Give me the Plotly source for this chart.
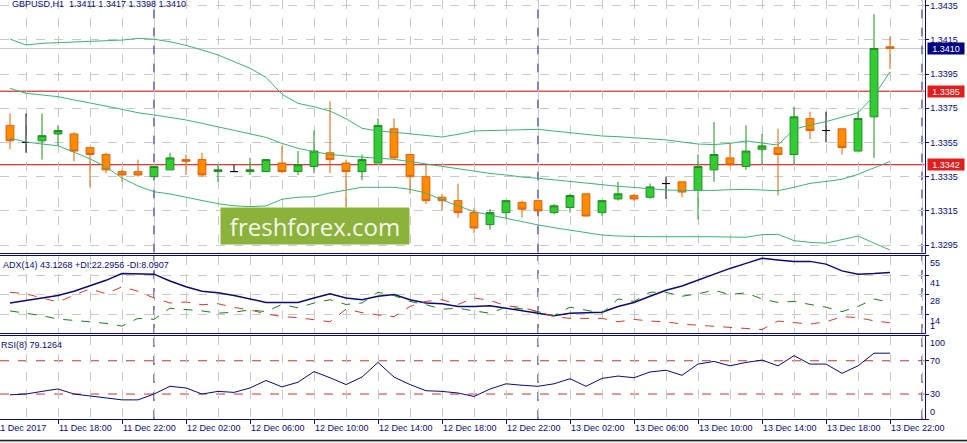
import pandas as pd
import plotly.graph_objects as go

# GBPUSD H1 candles, 11 Dec 2017 15:00 .. 13 Dec 2017 22:00
start_time = "2017-12-11 15:00"
opens = [1.3365, 1.3355, 1.3356, 1.3360, 1.3360, 1.3352, 1.3348, 1.3338, 1.3338, 1.3335,
         1.3339, 1.3345, 1.3345, 1.3338, 1.3338, 1.3338, 1.3338, 1.3343, 1.3338, 1.3341,
         1.3349, 1.3343, 1.3338, 1.3343, 1.3363, 1.3348, 1.3335, 1.3323, 1.3321, 1.3314,
         1.3307, 1.3314, 1.3320, 1.3321, 1.3314, 1.3317, 1.3325, 1.3314, 1.3322, 1.3324,
         1.3323, 1.3331, 1.3332, 1.3327, 1.3339, 1.3346, 1.3341, 1.3351, 1.3352, 1.3348,
         1.3369, 1.3362, 1.3363, 1.3350, 1.3370, 1.3411]
highs = [1.3372, 1.3372, 1.3372, 1.3365, 1.3361, 1.3352, 1.3349, 1.3339, 1.3345, 1.3341,
         1.3349, 1.3348, 1.3349, 1.3342, 1.3342, 1.3346, 1.3345, 1.3353, 1.3350, 1.3362,
         1.3379, 1.3345, 1.3348, 1.3369, 1.3369, 1.3348, 1.3342, 1.3325, 1.3331, 1.3317,
         1.3316, 1.3321, 1.3321, 1.3321, 1.3319, 1.3325, 1.3325, 1.3321, 1.3332, 1.3325,
         1.3331, 1.3335, 1.3332, 1.3348, 1.3367, 1.3355, 1.3365, 1.3360, 1.3363, 1.3376,
         1.3373, 1.3373, 1.3363, 1.3373, 1.3430, 1.3417]
lows = [1.3351, 1.3349, 1.3345, 1.3353, 1.3344, 1.3329, 1.3337, 1.3332, 1.3335, 1.3335,
        1.3339, 1.3336, 1.3335, 1.3332, 1.3338, 1.3336, 1.3338, 1.3337, 1.3336, 1.3337,
        1.3337, 1.3317, 1.3333, 1.3343, 1.3345, 1.3325, 1.3319, 1.3315, 1.3311, 1.3302,
        1.3304, 1.3311, 1.3311, 1.3313, 1.3313, 1.3314, 1.3312, 1.3312, 1.3321, 1.3321,
        1.3322, 1.3322, 1.3323, 1.3310, 1.3332, 1.3341, 1.3339, 1.3342, 1.3324, 1.3342,
        1.3357, 1.3355, 1.3348, 1.3350, 1.3346, 1.3398]
closes = [1.3356, 1.3355, 1.3359, 1.3362, 1.3350, 1.3348, 1.3339, 1.3336, 1.3336, 1.3341,
          1.3346, 1.3344, 1.3336, 1.3339, 1.3338, 1.3339, 1.3345, 1.3338, 1.3342, 1.3350,
          1.3345, 1.3338, 1.3345, 1.3365, 1.3346, 1.3335, 1.3321, 1.3321, 1.3314, 1.3305,
          1.3314, 1.3321, 1.3316, 1.3315, 1.3318, 1.3324, 1.3312, 1.3321, 1.3325, 1.3322,
          1.3329, 1.3331, 1.3326, 1.3341, 1.3348, 1.3342, 1.3350, 1.3353, 1.3348, 1.3370,
          1.3362, 1.3362, 1.3352, 1.3369, 1.3410, 1.3410]

# Bollinger bands
bb_upper = [1.34155, 1.34120, 1.34130, 1.34134, 1.34136, 1.34139, 1.34144, 1.34149, 1.34159, 1.34154,
            1.34139, 1.34118, 1.34091, 1.34062, 1.34023, 1.33984, 1.33931, 1.33832, 1.33779, 1.33759,
            1.33734, 1.33689, 1.33633, 1.33617, 1.33610, 1.33600, 1.33592, 1.33582, 1.33598, 1.33617,
            1.33620, 1.33623, 1.33625, 1.33627, 1.33617, 1.33606, 1.33597, 1.33588, 1.33584, 1.33579,
            1.33570, 1.33565, 1.33553, 1.33541, 1.33538, 1.33545, 1.33559, 1.33545, 1.33535, 1.33627,
            1.33652, 1.33672, 1.33697, 1.33724, 1.33822, 1.33964]
bb_middle = [1.33867, 1.33838, 1.33828, 1.33818, 1.33799, 1.33779, 1.33763, 1.33744, 1.33724, 1.33711,
             1.33697, 1.33682, 1.33662, 1.33642, 1.33623, 1.33604, 1.33580, 1.33545, 1.33516, 1.33496,
             1.33481, 1.33471, 1.33463, 1.33458, 1.33452, 1.33438, 1.33423, 1.33408, 1.33393, 1.33383,
             1.33369, 1.33360, 1.33348, 1.33341, 1.33331, 1.33321, 1.33311, 1.33301, 1.33294, 1.33287,
             1.33280, 1.33272, 1.33270, 1.33268, 1.33270, 1.33274, 1.33276, 1.33272, 1.33268, 1.33288,
             1.33311, 1.33322, 1.33335, 1.33364, 1.33401, 1.33439]
bb_lower = [1.33576, 1.33553, 1.33541, 1.33531, 1.33494, 1.33454, 1.33407, 1.33342, 1.33296, 1.33262,
            1.33249, 1.33231, 1.33214, 1.33192, 1.33180, 1.33175, 1.33179, 1.33218, 1.33230, 1.33233,
            1.33255, 1.33272, 1.33288, 1.33288, 1.33288, 1.33276, 1.33255, 1.33214, 1.33179, 1.33145,
            1.33126, 1.33107, 1.33085, 1.33068, 1.33052, 1.33038, 1.33024, 1.33009, 1.33003, 1.32999,
            1.32999, 1.32999, 1.33000, 1.33001, 1.32999, 1.32997, 1.32996, 1.33011, 1.33013, 1.32976,
            1.32966, 1.32961, 1.32980, 1.33003, 1.32962, 1.32921]

adx = [21.9, 23.7, 25.4, 27.1, 30.1, 34.1, 37.7, 42.4, 42.4, 42.0,
       37.2, 33.2, 30.1, 29.0, 27.1, 24.7, 22.3, 22.3, 22.3, 25.4,
       28.3, 25.4, 24.2, 26.6, 27.8, 24.2, 21.9, 21.4, 19.5, 19.5,
       20.0, 18.3, 16.4, 14.8, 13.1, 14.8, 15.2, 15.5, 19.5, 22.3,
       26.6, 30.8, 33.7, 37.9, 42.0, 46.0, 49.5, 53.1, 51.9, 50.9,
       50.9, 49.0, 44.3, 42.0, 42.4, 43.1]
plus_di = [16.4, 14.8, 13.1, 10.7, 10.0, 8.8, 7.7, 5.8, 11.2, 10.5,
           18.3, 17.6, 16.4, 14.8, 15.5, 17.1, 15.9, 20.9, 18.5, 21.9,
           24.2, 20.9, 21.9, 29.4, 27.1, 23.0, 20.7, 17.6, 18.3, 16.4,
           14.8, 19.0, 17.8, 15.9, 13.1, 19.0, 17.1, 14.8, 24.7, 23.0,
           29.4, 29.4, 26.6, 28.3, 30.8, 27.8, 29.0, 24.7, 22.3, 23.0,
           20.9, 19.0, 15.9, 19.5, 24.7, 22.3]
minus_di = [29.4, 28.3, 25.4, 22.6, 27.3, 31.8, 28.3, 33.2, 30.1, 25.4,
            21.9, 22.6, 20.7, 21.4, 18.8, 17.1, 14.3, 12.4, 11.7, 10.0,
            8.8, 17.6, 15.2, 13.6, 12.4, 19.5, 23.0, 24.2, 20.9, 25.4,
            23.7, 20.0, 18.8, 15.9, 12.4, 11.2, 11.2, 11.2, 8.8, 10.5,
            9.3, 8.8, 7.2, 6.5, 5.8, 5.3, 4.1, 3.4, 9.3, 8.1,
            7.2, 8.8, 12.4, 11.7, 9.5, 8.1]
rsi = [29.1, 30.0, 33.2, 36.1, 30.0, 27.9, 25.8, 23.0, 23.0, 30.0,
       39.3, 37.3, 30.0, 33.2, 32.0, 37.3, 46.3, 38.6, 44.2, 57.0,
       49.6, 41.4, 50.4, 68.0, 50.4, 41.4, 34.0, 33.2, 31.2, 27.1,
       36.0, 42.3, 40.6, 39.3, 42.3, 48.4, 39.3, 48.8, 51.6, 49.6,
       56.5, 58.6, 52.5, 66.0, 69.2, 63.9, 68.0, 70.8, 63.9, 76.1,
       66.0, 66.0, 54.9, 63.9, 79.1, 79.1]

# values shown in the indicator headers
adx_header = "ADX(14) 43.1268 +DI:22.2956 -DI:8.0907"
rsi_header = "RSI(8) 79.1264"

levels = [1.3385, 1.3342]
rsi_levels = [70, 30]
price_ticks = [1.3435, 1.3415, 1.3395, 1.3375, 1.3355, 1.3335, 1.3315, 1.3295]
adx_ticks = [55, 41, 28, 14]
day_breaks = ["2017-12-12 00:00", "2017-12-13 00:00", "2017-12-14 00:00"]
time_ticks = ["2017-12-11 18:00", "2017-12-11 22:00", "2017-12-12 02:00", "2017-12-12 06:00",
              "2017-12-12 10:00", "2017-12-12 14:00", "2017-12-12 18:00", "2017-12-12 22:00",
              "2017-12-13 02:00", "2017-12-13 06:00", "2017-12-13 10:00", "2017-12-13 14:00",
              "2017-12-13 18:00", "2017-12-13 22:00"]
time_labels = ["11 Dec 18:00", "11 Dec 22:00", "12 Dec 02:00", "12 Dec 06:00",
               "12 Dec 10:00", "12 Dec 14:00", "12 Dec 18:00", "12 Dec 22:00",
               "13 Dec 02:00", "13 Dec 06:00", "13 Dec 10:00", "13 Dec 14:00",
               "13 Dec 18:00", "13 Dec 22:00"]

times = pd.date_range(start_time, periods=len(closes), freq="h")

W, H = 967, 443
NAVY = "#0a0a78"
GRID = "#c8c8c8"
FONT = "Liberation Sans, Arial, sans-serif"

fig = go.Figure()

# candles split by direction so dojis can be black
groups = {
    "bull": [i for i in range(len(closes)) if closes[i] > opens[i]],
    "bear": [i for i in range(len(closes)) if closes[i] < opens[i]],
    "doji": [i for i in range(len(closes)) if closes[i] == opens[i]],
}
styles = {
    "bull": ("#32cd32", "#1e8c1e"),
    "bear": ("#ff8c00", "#e0600c"),
    "doji": ("#000000", "#000000"),
}
for name, idx in groups.items():
    fill, edge = styles[name]
    fig.add_trace(go.Candlestick(
        x=[times[i] for i in idx],
        open=[opens[i] for i in idx], high=[highs[i] for i in idx],
        low=[lows[i] for i in idx], close=[closes[i] for i in idx],
        increasing=dict(fillcolor=fill, line=dict(color=edge, width=1)),
        decreasing=dict(fillcolor=fill, line=dict(color=edge, width=1)),
        whiskerwidth=0, hoverinfo="skip", name=name,
        xaxis="x", yaxis="y",
    ))

for band in (bb_upper, bb_middle, bb_lower):
    fig.add_trace(go.Scatter(x=times, y=band, mode="lines",
                             line=dict(color="#3cb371", width=1),
                             hoverinfo="skip", xaxis="x", yaxis="y"))

fig.add_trace(go.Scatter(x=times, y=adx, mode="lines", line=dict(color=NAVY, width=1.5),
                         xaxis="x2", yaxis="y2", hoverinfo="skip"))
fig.add_trace(go.Scatter(x=times, y=plus_di, mode="lines",
                         line=dict(color="#1f7a1f", width=1, dash="dash"),
                         xaxis="x2", yaxis="y2", hoverinfo="skip"))
fig.add_trace(go.Scatter(x=times, y=minus_di, mode="lines",
                         line=dict(color="#d23c28", width=1, dash="dash"),
                         xaxis="x2", yaxis="y2", hoverinfo="skip"))
fig.add_trace(go.Scatter(x=times, y=rsi, mode="lines", line=dict(color=NAVY, width=1),
                         xaxis="x3", yaxis="y3", hoverinfo="skip"))

# pixel layout of the terminal window
bar_px, first_px, right_px = 16, 10, 924.5
t0 = times[0]
x_left = t0 - pd.Timedelta(hours=first_px / bar_px)
x_right = t0 + pd.Timedelta(hours=(right_px - first_px) / bar_px)
xdom = [0, right_px / W]
main_dom = [1 - 252.5 / H, 1]
adx_dom = [1 - 333 / H, 1 - 255.5 / H]
rsi_dom = [1 - 419 / H, 1 - 335.8 / H]
# price scale: 1.3435 sits at y=5.7 px, 1710 px per 0.01
p_top = 1.3435 + 5.7 / 17100
p_bot = 1.3435 - (252.5 - 5.7) / 17100

two_h = 2 * 3600 * 1000
xcommon = dict(type="date", range=[x_left, x_right], domain=xdom, automargin=False,
               showgrid=True, gridcolor=GRID, griddash="dash", gridwidth=1,
               zeroline=False, showline=True, linecolor=NAVY, linewidth=1)
ycommon = dict(side="right", automargin=False, zeroline=False, tickmode="array",
               ticks="outside", ticklen=3, tickcolor=NAVY,
               showline=True, linecolor=NAVY, linewidth=1)

fig.update_layout(
    width=W, height=H, autosize=False, margin=dict(l=0, r=0, t=0, b=0, autoexpand=False),
    paper_bgcolor="white", plot_bgcolor="white", showlegend=False,
    font=dict(family=FONT, size=9, color=NAVY),
    xaxis=dict(**xcommon, anchor="y", dtick=two_h, tick0="2017-12-11 00:00",
               showticklabels=False, ticks="", rangeslider=dict(visible=False)),
    xaxis2=dict(**xcommon, anchor="y2", matches="x", mirror=True, dtick=two_h,
                tick0="2017-12-11 00:00", showticklabels=False, ticks=""),
    xaxis3=dict(**xcommon, anchor="y3", matches="x", mirror=True,
                tickmode="array", tickvals=time_ticks, ticktext=time_labels,
                ticks="outside", ticklen=4, tickcolor=NAVY,
                ticklabelposition="outside right",
                tickfont=dict(family=FONT, size=9, color=NAVY),
                minor=dict(dtick=two_h, tick0="2017-12-11 00:00", showgrid=True,
                           gridcolor=GRID, griddash="dash", ticks="")),
    yaxis=dict(**ycommon, domain=main_dom, range=[p_bot, p_top], anchor="x",
               tickvals=price_ticks, ticktext=[f"{v:.4f}" for v in price_ticks],
               showgrid=True, gridcolor=GRID, griddash="dash",
               tickfont=dict(family=FONT, size=9, color=NAVY)),
    yaxis2=dict(**ycommon, domain=adx_dom, range=[1, 55], anchor="x2",
                tickvals=adx_ticks, showticklabels=False,
                showgrid=True, gridcolor=GRID, griddash="dash"),
    yaxis3=dict(**ycommon, domain=rsi_dom, range=[0, 100], anchor="x3",
                tickvals=[100, 70, 30, 0], showticklabels=False, showgrid=False),
)

shapes = []
for lvl in levels:
    shapes.append(dict(type="line", xref="x domain", yref="y", x0=0, x1=1, y0=lvl, y1=lvl,
                       line=dict(color="#d00000", width=1), layer="below"))
shapes.append(dict(type="line", xref="x domain", yref="y", x0=0, x1=1,
                   y0=closes[-1], y1=closes[-1],
                   line=dict(color="#c8c8c8", width=1), layer="below"))
for lvl in rsi_levels:
    shapes.append(dict(type="line", xref="x3 domain", yref="y3", x0=0, x1=1, y0=lvl, y1=lvl,
                       line=dict(color="#c83232", width=1, dash="dash"), layer="below"))
for day in day_breaks:
    for xr, yr in (("x", "y domain"), ("x2", "y2 domain"), ("x3", "y3 domain")):
        shapes.append(dict(type="line", xref=xr, yref=yr, x0=day, x1=day, y0=0, y1=1,
                           line=dict(color=NAVY, width=1, dash="dash"), layer="below"))
# terminal tab strip at the very bottom
shapes.append(dict(type="rect", xref="paper", yref="paper", x0=0, x1=1, y0=0, y1=2 / H,
                   fillcolor="#e6e6e6", line=dict(width=0)))
shapes.append(dict(type="line", xref="paper", yref="paper", x0=0, x1=1, y0=2.5 / H, y1=2.5 / H,
                   line=dict(color="#202020", width=1.5)))
fig.update_layout(shapes=shapes)

ann = []
ann.append(dict(xref="paper", yref="paper", x=10 / W, y=1 - 4.5 / H, xanchor="left",
                yanchor="middle", showarrow=False,
                text=f"GBPUSD,H1  {opens[-1]:.4f} {highs[-1]:.4f} {lows[-1]:.4f} {closes[-1]:.4f}"))
# price boxes on the right scale
ann.append(dict(xref="paper", yref="y", x=926.5 / W, y=closes[-1], xanchor="left",
                yanchor="middle", showarrow=False, text=f"{closes[-1]:.4f}",
                bgcolor="#000080", font=dict(color="white", size=9), width=35, borderpad=0.5))
for lvl in levels:
    ann.append(dict(xref="paper", yref="y", x=926.5 / W, y=lvl, xanchor="left",
                    yanchor="middle", showarrow=False, text=f"{lvl:.4f}",
                    bgcolor="#e41c1c", font=dict(color="white", size=9), width=35, borderpad=0.5))
ann.append(dict(xref="paper", yref="y2 domain", x=1 / W, y=1, yshift=-2, xanchor="left",
                yanchor="top", showarrow=False, text=adx_header))
ann.append(dict(xref="paper", yref="y3 domain", x=-1 / W, y=1, yshift=-2, xanchor="left",
                yanchor="top", showarrow=False, text=rsi_header))
for v in adx_ticks:
    ann.append(dict(xref="paper", yref="y2", x=928 / W, y=v, xanchor="left", yanchor="top",
                    showarrow=False, text=str(v)))
ann.append(dict(xref="paper", yref="y2", x=928 / W, y=1, xanchor="left", yanchor="bottom",
                showarrow=False, text="1"))
for v, anchor in ((100, "top"), (70, "middle"), (30, "middle"), (0, "bottom")):
    ann.append(dict(xref="paper", yref="y3", x=928 / W, y=v, xanchor="left", yanchor=anchor,
                    showarrow=False, text=str(v)))
# first date label is cut off at the left edge
ann.append(dict(xref="paper", yref="paper", x=-6 / W, y=1 - 428 / H, xanchor="left",
                yanchor="middle", showarrow=False, text="11 Dec 2017"))
# watermark
ann.append(dict(xref="paper", yref="paper", x=315 / W, y=1 - 226 / H, xanchor="center",
                yanchor="middle", showarrow=False, text="freshforex.com",
                font=dict(family="Open Sans", size=24, color="#f4f7ee"),
                bgcolor="#8cb23c", width=186, height=34))
fig.update_layout(annotations=ann)

# page without body margin or scrollbars
page_js = (
    "document.body.style.margin='0';"
    "document.body.style.overflow='hidden';"
    "document.documentElement.style.overflow='hidden';"
)
fig.write_html("out.html", config={"displayModeBar": False}, post_script=page_js)
